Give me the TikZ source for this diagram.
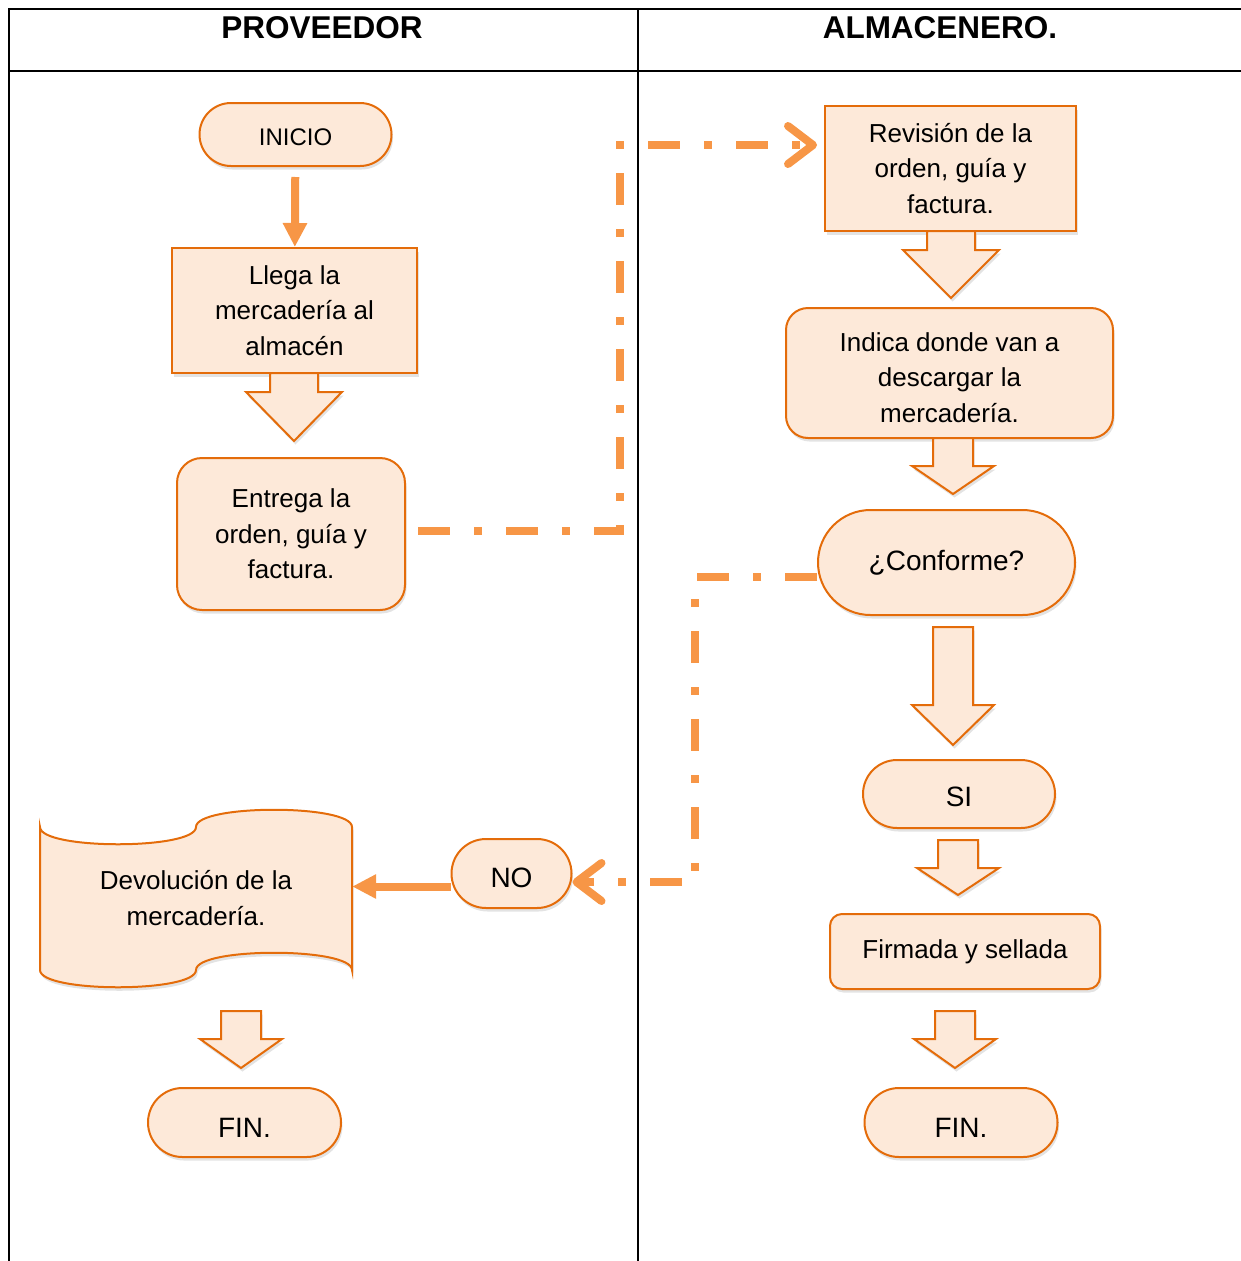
\documentclass[tikz,border=0pt]{standalone}
\usepackage{fontspec}
\setmainfont{Liberation Sans}
\usetikzlibrary{arrows.meta,shapes.misc,shadows}
\definecolor{boxfill}{HTML}{FDE9D9}
\definecolor{boxline}{HTML}{E46C0A}
\definecolor{arrowc}{HTML}{F79646}
% flecha de bloque hacia abajo: x centro, y inicio, y base punta, y punta, medio ancho, medio ancho punta
\newcommand\blockdown[6]{%
  \draw[blockarrow] (#1-#5,#2) -- (#1-#5,#3) -- (#1-#6,#3) -- (#1,#4) -- (#1+#6,#3) -- (#1+#5,#3) -- (#1+#5,#2) -- cycle;}
% texto un poco mas abajo
\newcommand\lowered[2]{\raisebox{-#1pt}[\height][\depth]{#2}}
\tikzset{
  shade box/.style={drop shadow={opacity=0.22, shadow xshift=1.5pt, shadow yshift=-3.5pt}},
  procbox/.style={draw=boxline, fill=boxfill, line width=2pt, align=center, inner sep=0pt, shade box},
  roundbox/.style={procbox, rounded corners=#1},
  pill/.style={procbox, rounded rectangle, font=\fontsize{28}{32}\selectfont},
  blockarrow/.style={draw=boxline, fill=boxfill, line width=2pt, line join=miter, shade box},
  tableline/.style={draw=black, line width=2.2pt},
  head/.style={font=\fontsize{31.5}{36}\selectfont\bfseries},
  flowarrow/.style={draw=arrowc, line width=8pt, -{Triangle[length=24pt, width=23pt]}},
  dashconn/.style={draw=arrowc, line width=8pt, dash pattern=on 32pt off 24pt on 8pt off 24pt,
    -{Straight Barb[length=25pt, width=38pt, round]}}
}
\begin{document}
\begin{tikzpicture}[x=1pt, y=-1pt, font=\fontsize{26}{35.5}\selectfont]
	\useasboundingbox (0,0) rectangle (1241,1261);
	% tabla
	\draw[tableline] (9,1261) -- (9,9) -- (1241,9) (9,71) -- (1241,71) (638,9) -- (638,1261);
	\node[head] (prov) at (322,28) {PROVEEDOR};
	\node[head] (alm) at (940,28) {ALMACENERO.};
	% proveedor
	\node[pill, minimum width=192pt, minimum height=63pt, font=\fontsize{24}{28}\selectfont] (inicio) at (295.5,134.5) {\lowered{3}{INICIO}};
	\node[procbox, minimum width=245pt, minimum height=125pt] (llega) at (294.5,310.5) {Llega la\\mercadería al\\almacén};
	\node[roundbox=25pt, minimum width=228pt, minimum height=152pt] (entrega) at (291,534) {Entrega la\\orden, guía y\\factura.};
	\node[pill, minimum width=120pt, minimum height=69pt] (no) at (511.5,873.5) {\lowered{4}{NO}};
	\draw[procbox] (40,827) .. controls (40,850) and (196,850) .. (196,827) .. controls (196,804) and (352,804) .. (352,827)
		-- (352,970) .. controls (352,947) and (196,947) .. (196,970) .. controls (196,993) and (40,993) .. (40,970) -- cycle;
	\node[align=center, minimum width=312pt, minimum height=160pt, inner sep=0pt] (devol) at (196,898) {Devolución de la\\mercadería.};
	\node[pill, minimum width=193pt, minimum height=69pt] (finl) at (244.5,1122.5) {\lowered{5}{FIN.}};
	% almacenero
	\node[procbox, minimum width=251pt, minimum height=125pt] (revision) at (950.5,168.5) {Revisión de la\\orden, guía y\\factura.};
	\node[roundbox=22pt, minimum width=327pt, minimum height=130pt] (indica) at (949.5,373) {\rule{0pt}{28pt}Indica donde van a\\descargar la\\mercadería.};
	\node[pill, minimum width=257pt, minimum height=105pt] (conforme) at (946.5,562.5) {¿Conforme?};
	\node[pill, minimum width=192pt, minimum height=68pt] (si) at (959,794) {\lowered{3}{SI}};
	\node[roundbox=12pt, minimum width=270pt, minimum height=75pt] (firmada) at (965,951.5) {Firmada y sellada};
	\node[pill, minimum width=193pt, minimum height=69pt] (finr) at (961,1122.5) {\lowered{5}{FIN.}};
	% flechas de bloque
	\blockdown{294}{373}{392}{441}{24}{48}
	\blockdown{951}{231}{250}{298}{24}{48}
	\blockdown{953}{438}{466}{494}{20}{41}
	\blockdown{953}{627}{705}{745}{20}{41}
	\blockdown{958}{840}{868}{895}{20}{41}
	\blockdown{955}{1011}{1039}{1068}{20}{41}
	\blockdown{241}{1011}{1039}{1068}{20}{41}
	% conectores
	\draw[flowarrow, shorten <=10pt] (inicio) -- (llega);
	\coordinate (noleft) at ([yshift=-13pt]no.west);
	\draw[flowarrow] (noleft) -- (noleft -| devol.east);
	\coordinate (entout) at ([shift={(12pt,3pt)}]entrega.east);
	\coordinate (c1) at (620,145);
	\draw[dashconn, shorten >=7pt] (entout) -- (entout -| c1) -- (c1) -- (revision.west |- c1);
	\coordinate (confout) at ([yshift=-14.5pt]conforme.west);
	\coordinate (c2) at (695,882);
	\draw[dashconn] (confout) -- (confout -| c2) -- (c2) -- (no.east |- c2);
\end{tikzpicture}
\end{document}
